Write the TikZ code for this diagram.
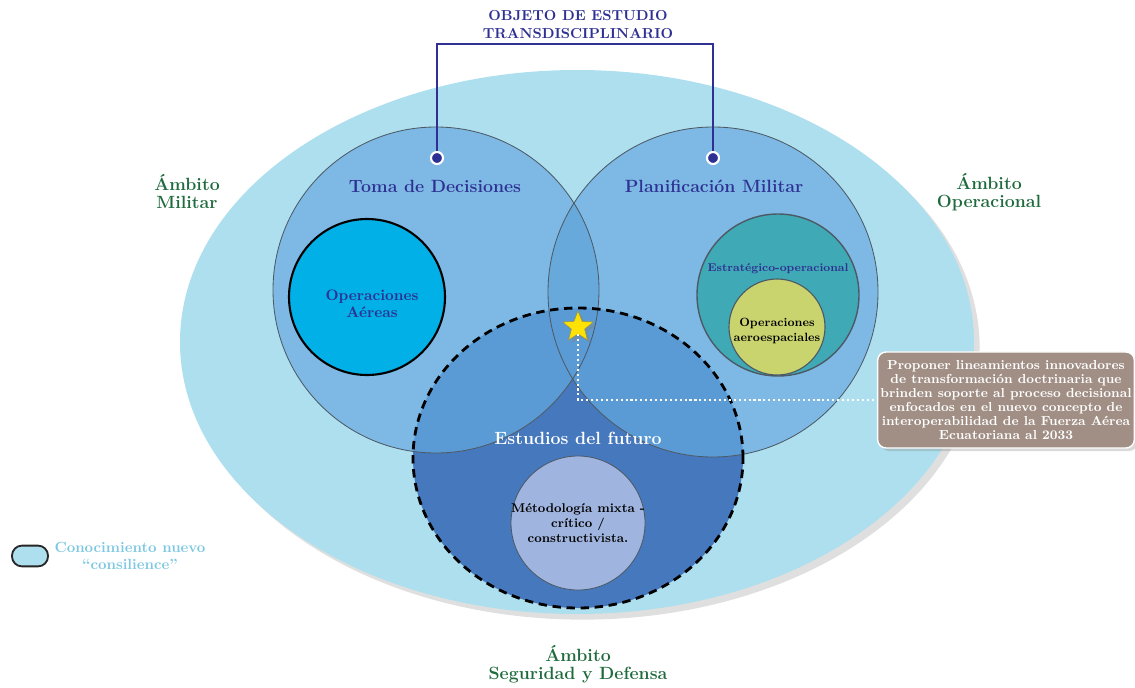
\documentclass[tikz,border=0pt]{standalone}
\usetikzlibrary{shapes.geometric,shadows}
\definecolor{navy}{HTML}{2E3192}
\definecolor{ambgreen}{HTML}{1F6B3D}
\definecolor{skyfill}{HTML}{ADDFEE}
\definecolor{circfill}{HTML}{7DB9E4}
\definecolor{lensfill}{HTML}{68A9DC}
\definecolor{midfill}{HTML}{5B9BD5}
\definecolor{futfill}{HTML}{4678BE}
\definecolor{aerfill}{HTML}{00B0E6}
\definecolor{estfill}{HTML}{3FA9B5}
\definecolor{espfill}{HTML}{C9D46E}
\definecolor{metfill}{HTML}{9FB4DE}
\definecolor{notefill}{HTML}{A18F85}
\definecolor{legtext}{HTML}{7EC8E3}
\definecolor{rimgray}{HTML}{4D5A66}
\tikzset{rim/.style = {draw=rimgray, line width=0.6pt},
         headline/.style = {font=\bfseries\fontsize{10.3}{12.8}\selectfont, text=navy, align=center},
         heading/.style = {font=\bfseries\fontsize{12.6}{14}\selectfont, text=navy, align=center},
         ambito/.style = {font=\bfseries\fontsize{12.6}{12.8}\selectfont, text=ambgreen, align=center},
         innertext/.style = {font=\bfseries\fontsize{9}{10.5}\selectfont, align=center},
         dotend/.style = {circle, fill=navy, draw=white, line width=1.5pt, minimum size=0.3cm, inner sep=0pt},
         starmark/.style = {star, star points=5, star point ratio=2.3, fill=yellow!85!orange, draw=yellow!55!black, minimum size=0.8cm, inner sep=0pt},
         note/.style = {fill=notefill, draw=white, line width=1pt, rounded corners=6pt, text=white, align=center,
                        font=\bfseries\fontsize{9.3}{10}\selectfont, minimum width=6.35cm, minimum height=2.4cm, inner sep=2pt}}
\begin{document}
\begin{tikzpicture}[x=0.025cm,y=0.025cm]
        \useasboundingbox (0,0) rectangle (1135,687);
        \coordinate (cE) at (577,345);
        \coordinate (cL) at (436,397);
        \coordinate (cR) at (713,395);
        \coordinate (cF) at (578,229);

        % ambitos
        \fill[skyfill, drop shadow={shadow xshift=4pt, shadow yshift=-4pt, opacity=0.25}] (cE) ellipse [x radius=397, y radius=272];
        \fill[futfill] (cF) ellipse [x radius=165, y radius=150];
        \fill[circfill] (cL) circle (163);
        \fill[circfill] (cR) circle (165);
        \begin{scope}
            \clip (cL) circle (163);
            \fill[lensfill] (cR) circle (165);
        \end{scope}
        \begin{scope}
            \clip (cF) ellipse [x radius=165, y radius=150];
            \fill[midfill] (cL) circle (163);
            \fill[midfill] (cR) circle (165);
        \end{scope}
        \draw[rim] (cL) circle (163);
        \draw[rim] (cR) circle (165);
        \draw[black, line width=2pt, dash pattern=on 6pt off 4pt] (cF) ellipse [x radius=165, y radius=150];

        % inner circles
        \filldraw[fill=aerfill, draw=black, line width=1.5pt] (367,390) circle (78);
        \filldraw[fill=estfill, draw=rimgray, line width=1pt] (778,392) circle (81);
        \filldraw[fill=espfill, draw=rimgray, line width=0.8pt] (777,360) circle (48);
        \filldraw[fill=metfill, draw=rimgray, line width=0.6pt] (578,164) circle (67);

        % texts
        \node[headline] (objeto) at (578,662) {OBJETO DE ESTUDIO\\TRANSDISCIPLINARIO};
        \node[heading] (toma) at (435,501) {Toma de Decisiones};
        \node[heading] (plan) at (714,501) {Planificación Militar};
        \node[heading, text=white] (futuro) at (578,249) {Estudios del futuro};
        \node[ambito] (militar) at (187,495) {Ámbito\\Militar};
        \node[ambito] (operacional) at (989,495) {Ámbito\\Operacional};
        \node[ambito] (seguridad) at (578,23) {Ámbito\\Seguridad y Defensa};
        \node[innertext, text=navy, font=\bfseries\fontsize{10.8}{12}\selectfont] (aereas) at (372,383) {Operaciones\\Aéreas};
        \node[innertext, text=navy, font=\bfseries\fontsize{8}{9.5}\selectfont] (estrat) at (778,418) {Estratégico-operacional};
        \node[innertext, font=\bfseries\fontsize{8.5}{10.5}\selectfont] (aeroesp) at (777,356) {Operaciones\\aeroespaciales};
        \node[innertext] (metodo) at (578,164) {Métodología mixta -\\crítico /\\constructivista.};

        % bracket
        \node[dotend] (dotL) at (437,529) {};
        \node[dotend] (dotR) at (713,529) {};
        \coordinate (bracketTop) at (578,643);
        \draw[navy, line width=1.8pt] (dotL) -- (dotL |- bracketTop) -| (dotR);

        % star and note
        \node[starmark, drop shadow={opacity=0.4}] (star) at (578,360) {};
        \node[note, drop shadow={opacity=0.3}] (propuesta) at (1006,287) {Proponer lineamientos innovadores\\de transformación doctrinaria que\\brinden soporte al proceso decisional\\enfocados en el nuevo concepto de\\interoperabilidad de la Fuerza Aérea\\Ecuatoriana al 2033};
        \draw[white, line width=1.8pt, dash pattern=on 1.5pt off 2pt] (star) |- (propuesta.west);

        % legend
        \node[draw=black!85, fill=skyfill, line width=1.3pt, rounded corners=0.25cm, minimum width=0.9cm, minimum height=0.52cm] (legpill) at (30,131) {};
        \node[font=\bfseries\fontsize{10.5}{12}\selectfont, text=legtext, align=center] (legtxt) at (130,131) {Conocimiento nuevo\\“consilience”};
\end{tikzpicture}
\end{document}
